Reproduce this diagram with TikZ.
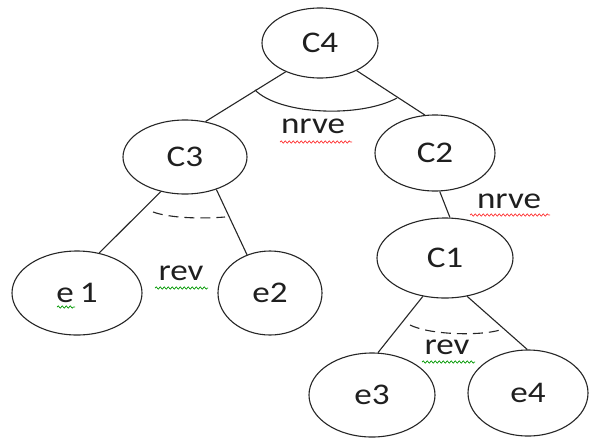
\documentclass[tikz,border=0pt]{standalone}
\usepackage{graphicx}
\usepackage{fontspec}
\setmainfont{Carlito}
\usetikzlibrary{shapes.geometric,decorations.pathmorphing}
\newcommand{\wide}[1]{\scalebox{1.17}[1]{#1}}
\begin{document}
\begin{tikzpicture}[x=1pt,y=-1pt,
  every node/.style={font=\fontsize{30}{32}\selectfont, text=black!88},
  ell/.style={draw=black!85, line width=1.1pt, ellipse, inner sep=0pt},
  edge/.style={draw=black!85, line width=1.1pt},
  dsh/.style={dash pattern=on 10pt off 6pt},
  lbl/.style={inner sep=0pt},
  squig/.style={decorate, decoration={snake, segment length=4pt, amplitude=1.1pt}, line width=0.7pt},
]
\useasboundingbox[fill=white] (0,0) rectangle (589,437);
\node[ell, minimum width=116pt, minimum height=70pt] (C4) at (320,43) {\wide{C4}};
\node[ell, minimum width=124pt, minimum height=74pt] (C3) at (185,157) {\wide{C3}};
\node[ell, minimum width=120pt, minimum height=76pt] (C2) at (435,153) {\wide{C2}};
\node[ell, minimum width=136pt, minimum height=80pt] (C1) at (445,258) {\wide{C1}};
\node[ell, minimum width=130pt, minimum height=84pt] (E1) at (77,293) {\wide{e\,1}};
\node[ell, minimum width=104pt, minimum height=84pt] (E2) at (270,293) {\wide{e2}};
\node[ell, minimum width=126pt, minimum height=84pt] (E3) at (372,395) {\wide{e3}};
\node[ell, minimum width=120pt, minimum height=86pt] (E4) at (528,393) {\wide{e4}};

\draw[edge] (C4.220) -- (C3.60);
\draw[edge] (C4.323) -- (C2.105);
\draw[edge] (C3.235) -- (E1.61);
\draw[edge] (C3.314) -- (E2.121);
\draw[edge] (C2.277) -- (C1.83);
\draw[edge] (C1.240) -- (E3.82);
\draw[edge] (C1.300) -- (E4.91);

\coordinate (a1) at (255,90);
\coordinate (a2) at (397,98);
\draw[edge] (a1) .. controls (280,115) and (360,118) .. (a2);
\coordinate (b1) at (153,212);
\coordinate (b2) at (225,217);
\draw[edge, dsh] (b1) .. controls (170,218) and (200,219) .. (b2);
\coordinate (c1) at (410,325);
\coordinate (c2) at (500,330);
\draw[edge, dsh] (c1) .. controls (430,335) and (480,336) .. (c2);

\node[lbl] (n1) at (313,126) {\wide{nrve}};
\node[lbl] (n2) at (509,201) {\wide{nrve}};
\node[lbl] (r1) at (181,273) {\wide{rev}};
\node[lbl] (r2) at (447,347) {\wide{rev}};

\draw[squig, red!80] (280,142) -- (352,142);
\draw[squig, red!80] (470,215) -- (550,215);
\draw[squig, green!60!black] (155,288) -- (208,288);
\draw[squig, green!60!black] (422,362) -- (475,362);
\draw[squig, green!60!black] (57,307) -- (75,307);
\end{tikzpicture}
\end{document}
